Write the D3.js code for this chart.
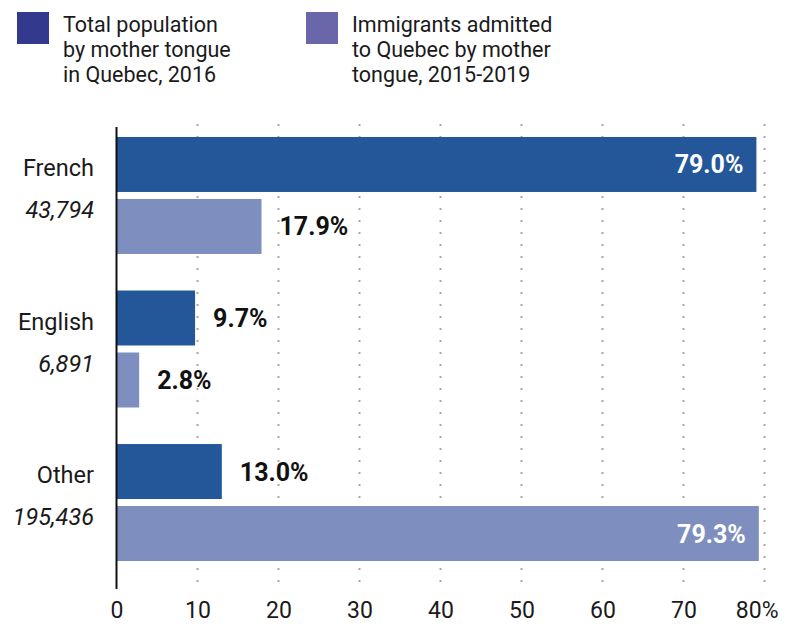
<!DOCTYPE html>
<html>
<head>
<meta charset="utf-8">
<script src="https://cdn.jsdelivr.net/npm/d3@7"></script>
<style>
  body { margin: 0; background: #fff; }
  text { font-family: Roboto, "Noto Sans", sans-serif; fill: #1a1a1a; }
  .val { font-weight: 700; font-size: 25px; }
</style>
</head>
<body>
<div id="chart"></div>
<script>
// data
const categories = ["French", "English", "Other"];
const counts = ["43,794", "6,891", "195,436"];
const seriesNames = ["Total population by mother tongue in Quebec, 2016",
                     "Immigrants admitted to Quebec by mother tongue, 2015-2019"];
const totalPop = [79.0, 9.7, 13.0];
const immigrants = [17.9, 2.8, 79.3];
const xTicks = [0, 10, 20, 30, 40, 50, 60, 70, 80];

const W = 787, H = 626;
const svg = d3.select("#chart").append("svg")
    .attr("width", W).attr("height", H);

// scales
const x = d3.scaleLinear().domain([0, 80]).range([116.5, 764.5]);
const y0 = d3.scaleBand().domain(categories).range([127, 571])
    .paddingInner(0.238).paddingOuter(0.065);
const y1 = d3.scaleBand().domain([0, 1]).range([0, y0.bandwidth()]).paddingInner(0.113);

const barColors = ["#245799", "#7e8fbf"];
const legendColors = ["#333a8e", "#6a66aa"];

// legend
const legendLines = [["Total population", "by mother tongue", "in Quebec, 2016"],
                     ["Immigrants admitted", "to Quebec by mother", "tongue, 2015-2019"]];
const legend = svg.append("g");
legendLines.forEach((lines, i) => {
    const lx = i === 0 ? 17 : 306;
    legend.append("rect").attr("x", lx).attr("y", 12).attr("width", 32).attr("height", 32)
        .attr("fill", legendColors[i]);
    const t = legend.append("text").attr("x", lx + 46).attr("y", 32).style("font-size", "21.5px");
    lines.forEach((l, j) => t.append("tspan").attr("x", lx + 46).attr("dy", j ? 25 : 0).text(l));
});

// gridlines
svg.append("g").selectAll("line")
    .data(xTicks.slice(1))
    .join("line")
    .attr("x1", d => x(d)).attr("x2", d => x(d))
    .attr("y1", 124).attr("y2", 590)
    .attr("stroke", "#a8a8a8").attr("stroke-width", 2)
    .attr("stroke-dasharray", "2,10");

// bars
const rows = categories.map((c, i) => ({ cat: c, count: counts[i], vals: [totalPop[i], immigrants[i]] }));
const groups = svg.append("g").selectAll("g")
    .data(rows)
    .join("g")
    .attr("transform", d => `translate(0,${y0(d.cat)})`);

groups.selectAll("rect")
    .data(d => d.vals.map((v, k) => ({ v, k })))
    .join("rect")
    .attr("x", x(0))
    .attr("y", d => y1(d.k))
    .attr("width", d => x(d.v) - x(0))
    .attr("height", y1.bandwidth())
    .attr("fill", d => barColors[d.k]);

groups.selectAll("text.val")
    .data(d => d.vals.map((v, k) => ({ v, k })))
    .join("text")
    .attr("class", "val")
    .attr("y", d => y1(d.k) + y1.bandwidth() / 2)
    .attr("dy", "0.36em")
    .attr("x", d => d.v > 50 ? x(d.v) - 13 : x(d.v) + 18)
    .attr("text-anchor", d => d.v > 50 ? "end" : "start")
    .style("fill", d => d.v > 50 ? "#fff" : "#111")
    .text(d => d.v.toFixed(1) + "%");

// category labels
groups.append("text")
    .attr("x", 94).attr("y", 31).attr("dy", "0.36em")
    .attr("text-anchor", "end").style("font-size", "23.5px")
    .text(d => d.cat);
groups.append("text")
    .attr("x", 94).attr("y", 73).attr("dy", "0.36em")
    .attr("text-anchor", "end").style("font-size", "23.5px").style("font-style", "italic")
    .text(d => d.count);

// y axis line
svg.append("line")
    .attr("x1", x(0)).attr("x2", x(0)).attr("y1", 127).attr("y2", 589)
    .attr("stroke", "#111").attr("stroke-width", 2);

// x axis
const xAxis = svg.append("g")
    .attr("transform", "translate(0,590)")
    .call(d3.axisBottom(x).tickValues(xTicks).tickSize(0).tickPadding(8)
        .tickFormat(d => d === 80 ? "80%" : d));
xAxis.select(".domain").remove();
xAxis.selectAll("text")
    .style("font-family", "Roboto, sans-serif")
    .style("font-size", "23px")
    .style("fill", "#1a1a1a")
    .attr("dy", "0.88em");
xAxis.selectAll(".tick").filter(d => d === 80).select("text")
    .attr("text-anchor", "end").attr("x", 778 - x(80));
</script>
</body>
</html>
